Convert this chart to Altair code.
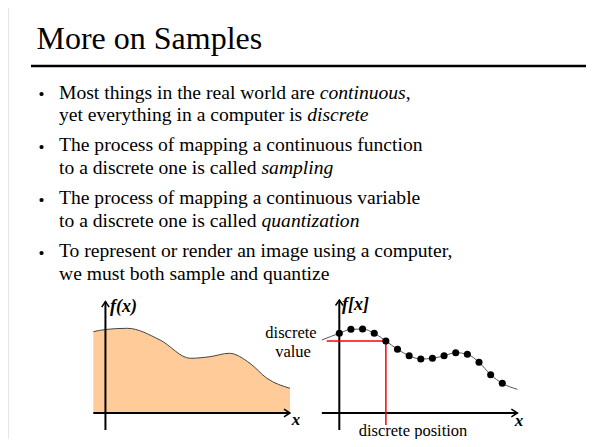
import altair as alt
import pandas as pd

# ---------------- data ----------------
TITLE = "More on Samples"
BULLETS = [
    [[("Most things in the real world are ", False), ("continuous", True), (",", False)],
     [("yet everything in a computer is ", False), ("discrete", True)]],
    [[("The process of mapping a continuous function", False)],
     [("to a discrete one is called ", False), ("sampling", True)]],
    [[("The process of mapping a continuous variable", False)],
     [("to a discrete one is called ", False), ("quantization", True)]],
    [[("To represent or render an image using a computer,", False)],
     [("we must both sample and quantize", False)]],
]
# continuous function f(x) (left panel)
left_x = [-1.0, 0.0, 1.8, 4.5, 7.0, 8.6, 10.2, 11.9, 13.3, 15.2]
left_fx = [81.3, 83.5, 84.7, 73.0, 54.7, 56.3, 59.7, 49.7, 34.7, 24.7]
# sampled function f[x] (right panel)
sample_x = list(range(15))
sample_fx = [79.7, 83.7, 84.0, 79.7, 72.0, 63.7, 57.3, 54.0, 54.7, 57.3, 60.3, 58.7, 50.7, 38.3, 29.7]
curve_x = [-1.5] + sample_x + [15.3]
curve_fx = [73.0] + sample_fx + [23.7]
HIGHLIGHT = 4          # sample marked with the red guides
GUIDE_LEFT = -1.08     # where the horizontal red guide starts (sample units)
GUIDE_BOTTOM = -12.0   # where the vertical red guide ends (value units)
AXIS_BOTTOM = -17.0
LEFT_AXIS_TOP = 111.3
RIGHT_AXIS_TOP = 113.0

# ---------------- layout helpers ----------------
W, H = 578, 431
def P(v):
    return v - 8  # page pixel -> plot pixel

FONT = "Liberation Serif"
ROMAN = {' ': 250, 'a': 444, 'b': 500, 'c': 444, 'd': 500, 'e': 444, 'f': 333, 'g': 500,
         'h': 500, 'i': 278, 'j': 278, 'k': 500, 'l': 278, 'm': 778, 'n': 500, 'o': 500,
         'p': 500, 'q': 500, 'r': 333, 's': 389, 't': 278, 'u': 500, 'v': 500, 'w': 722,
         'x': 500, 'y': 500, 'z': 444, 'M': 889, 'T': 611, 'S': 556, ',': 250, '.': 250}
ITALIC = dict(ROMAN)
ITALIC.update({'a': 500, 'm': 722, 'r': 389, 'z': 389})

def text_width(s, italic, size):
    tbl = ITALIC if italic else ROMAN
    return sum(tbl.get(c, 500) for c in s) / 1000.0 * size

ONE = pd.DataFrame({"k": [0]})

def txt(s, x, y, size, align="left", style="normal", weight="normal", color="black"):
    return alt.Chart(ONE).mark_text(
        text=s, align=align, baseline="alphabetic", font=FONT, fontSize=size,
        fontStyle=style, fontWeight=weight, color=color,
    ).encode(x=alt.value(P(x)), y=alt.value(P(y)))

def prule(x, y, x2, y2, width=2, color="black"):
    return alt.Chart(ONE).mark_rule(strokeWidth=width, color=color).encode(
        x=alt.value(P(x)), y=alt.value(P(y)), x2=alt.value(P(x2)), y2=alt.value(P(y2)))

layers = []
# slide frame and title rule
layers.append(prule(7, 7, 7, 447, width=2.2))
layers.append(prule(7, 7, 594, 7, width=2.2))
layers.append(prule(31, 66, 588, 66, width=2.4))
layers.append(txt(TITLE, 36.5, 48.5, 32))

# bullets
BODY = 19.6
TEXT_X = 59
first_baselines = [98.5, 151, 204, 257]
LINE = 22.5
for b, lines in enumerate(BULLETS):
    y0 = first_baselines[b]
    layers.append(txt("\u2022", 41.5, y0 + 1.5, 17, align="center"))
    for li, segs in enumerate(lines):
        x = TEXT_X
        for s, it in segs:
            layers.append(txt(s, x, y0 + li * LINE, BODY, style="italic" if it else "normal"))
            x += text_width(s, it, BODY)

# ---------------- plots ----------------
Y_SCALE = alt.Scale(domain=[0, 100], range=[P(413), P(313)], nice=False, zero=False)
LX = alt.Scale(domain=[left_x[0], left_x[-1]], range=[P(93.3), P(290)], nice=False, zero=False)
RX = alt.Scale(domain=[0, 14], range=[P(339.3), P(502.3)], nice=False, zero=False)

left_df = pd.DataFrame({"x": left_x, "fx": left_fx, "base": [0.0] * len(left_x)})
layers.append(alt.Chart(left_df).mark_area(color="#FFCC99", interpolate="monotone").encode(
    x=alt.X("x:Q", scale=LX, axis=None),
    y=alt.Y("fx:Q", scale=Y_SCALE, axis=None),
    y2="base:Q"))
layers.append(alt.Chart(left_df).mark_line(color="#444444", strokeWidth=1, interpolate="monotone").encode(
    x=alt.X("x:Q", scale=LX, axis=None),
    y=alt.Y("fx:Q", scale=Y_SCALE, axis=None)))

UP = "M-0.75,1.1L0,0L0.75,1.1"
RIGHT = "M-1.1,-0.7L0,0L-1.1,0.7"

def axes(xscale, x_lo, x_hi, y_top):
    out = []
    v = pd.DataFrame({"x": [0.0], "y1": [AXIS_BOTTOM], "y2": [y_top]})
    out.append(alt.Chart(v).mark_rule(strokeWidth=2, color="black").encode(
        x=alt.X("x:Q", scale=xscale, axis=None),
        y=alt.Y("y1:Q", scale=Y_SCALE, axis=None), y2="y2:Q"))
    h = pd.DataFrame({"x1": [x_lo], "x2": [x_hi], "y": [0.0]})
    out.append(alt.Chart(h).mark_rule(strokeWidth=2, color="black").encode(
        x=alt.X("x1:Q", scale=xscale, axis=None), x2="x2:Q",
        y=alt.Y("y:Q", scale=Y_SCALE, axis=None)))
    tip_up = pd.DataFrame({"x": [0.0], "y": [y_top]})
    out.append(alt.Chart(tip_up).mark_point(shape=UP, size=100, filled=False, color="black",
                                            strokeWidth=1.5, opacity=1).encode(
        x=alt.X("x:Q", scale=xscale, axis=None), y=alt.Y("y:Q", scale=Y_SCALE, axis=None)))
    tip_r = pd.DataFrame({"x": [x_hi], "y": [0.0]})
    out.append(alt.Chart(tip_r).mark_point(shape=RIGHT, size=121, filled=False, color="black",
                                           strokeWidth=1.5, opacity=1).encode(
        x=alt.X("x:Q", scale=xscale, axis=None), y=alt.Y("y:Q", scale=Y_SCALE, axis=None)))
    return out

layers += axes(LX, left_x[0], left_x[-1], LEFT_AXIS_TOP)
layers += axes(RX, curve_x[0], curve_x[-1], RIGHT_AXIS_TOP)

# red guides to the highlighted sample
hx, hy = sample_x[HIGHLIGHT], sample_fx[HIGHLIGHT]
gh = pd.DataFrame({"x1": [GUIDE_LEFT], "x2": [hx], "y": [hy]})
layers.append(alt.Chart(gh).mark_rule(color="#FF0000", strokeWidth=1.5).encode(
    x=alt.X("x1:Q", scale=RX, axis=None), x2="x2:Q",
    y=alt.Y("y:Q", scale=Y_SCALE, axis=None)))
gv = pd.DataFrame({"x": [hx], "y1": [hy], "y2": [GUIDE_BOTTOM]})
layers.append(alt.Chart(gv).mark_rule(color="#FF0000", strokeWidth=1.5).encode(
    x=alt.X("x:Q", scale=RX, axis=None),
    y=alt.Y("y1:Q", scale=Y_SCALE, axis=None), y2="y2:Q"))

curve_df = pd.DataFrame({"x": curve_x, "fx": curve_fx})
layers.append(alt.Chart(curve_df).mark_line(color="#555555", strokeWidth=1, interpolate="monotone").encode(
    x=alt.X("x:Q", scale=RX, axis=None),
    y=alt.Y("fx:Q", scale=Y_SCALE, axis=None)))
samp_df = pd.DataFrame({"x": sample_x, "fx": sample_fx})
layers.append(alt.Chart(samp_df).mark_circle(size=50, color="black", opacity=1).encode(
    x=alt.X("x:Q", scale=RX, axis=None),
    y=alt.Y("fx:Q", scale=Y_SCALE, axis=None)))

# plot labels
layers.append(txt("f(x)", 110, 312, 18, style="italic", weight="bold"))
layers.append(txt("x", 296, 425, 17, align="center", style="italic", weight="bold"))
layers.append(txt("f[x]", 342, 310, 18, style="italic", weight="bold"))
layers.append(txt("x", 519, 426, 17, align="center", style="italic", weight="bold"))
layers.append(txt("discrete", 291, 338, 16.5, align="center"))
layers.append(txt("value", 293, 357, 16.5, align="center"))
layers.append(txt("discrete position", 413, 436, 16.5, align="center"))

chart = alt.layer(*layers).resolve_scale(x="independent", y="independent").properties(
    width=W, height=H, padding=0, autosize=alt.AutoSizeParams(type="none"),
    background="white",
).configure_view(stroke=None)

chart.save("out.html", embed_options={"renderer": "svg", "actions": False})
